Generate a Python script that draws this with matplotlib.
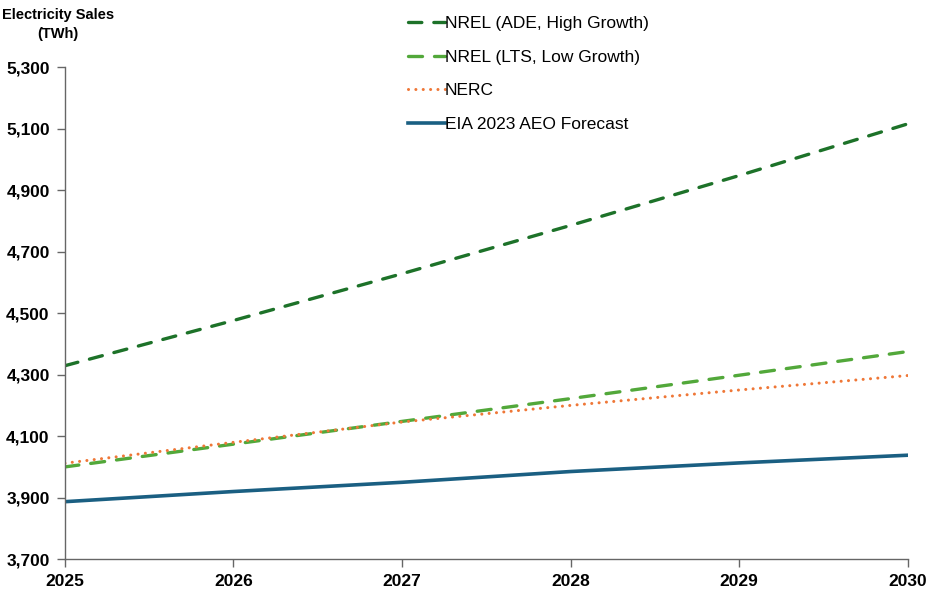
import matplotlib.pyplot as plt

plt.rcParams['font.family'] = ['Liberation Sans', 'DejaVu Sans']

years = [2025, 2026, 2027, 2028, 2029, 2030]
nrel_ade = [4329, 4476, 4628, 4785, 4947, 5115]
nrel_lts = [4000, 4074, 4148, 4222, 4298, 4375]
nerc = [4012, 4080, 4146, 4200, 4250, 4297]
eia_aeo = [3887, 3920, 3950, 3985, 4013, 4038]

fig = plt.figure(figsize=(9.28, 5.93), dpi=100)
ax = fig.add_axes([0.070, 0.057, 0.908, 0.830])

ax.plot(years, nrel_ade, color='#1d7229', lw=2.4, dashes=(4, 3.6), dash_capstyle='round',
        label='NREL (ADE, High Growth)')
ax.plot(years, nrel_lts, color='#52a83a', lw=2.4, dashes=(4.2, 3.6), dash_capstyle='round',
        label='NREL (LTS, Low Growth)')
ax.plot(years, nerc, color='#ef7737', lw=2.2, dashes=(0.01, 2.4), dash_capstyle='round',
        label='NERC')
ax.plot(years, eia_aeo, color='#1a5f82', lw=2.6, label='EIA 2023 AEO Forecast')

ax.set_xlim(2025, 2030)
ax.set_ylim(3700, 5300)
ax.set_xticks(years)
ax.set_yticks(range(3700, 5301, 200))
ax.set_yticklabels([f'{v:,}' for v in range(3700, 5301, 200)])

for s in ['top', 'right']:
    ax.spines[s].set_visible(False)
for s in ['left', 'bottom']:
    ax.spines[s].set_color('#666666')
    ax.spines[s].set_linewidth(1.0)

ax.tick_params(axis='both', direction='out', length=6, color='#666666', width=1.0,
               labelsize=12.5, pad=5)
for lbl in ax.get_xticklabels() + ax.get_yticklabels():
    lbl.set_fontweight('bold')

fig.text(0.0625, 0.987, 'Electricity Sales\n(TWh)', ha='center', va='top',
         fontsize=10.5, fontweight='bold', linespacing=1.5)

leg = ax.legend(loc='upper left', bbox_to_anchor=(0.389, 1.136), frameon=False,
                fontsize=12.5, handlelength=2.1, handletextpad=0.0, labelspacing=1.07)

fig.savefig('out.png', dpi=100)
